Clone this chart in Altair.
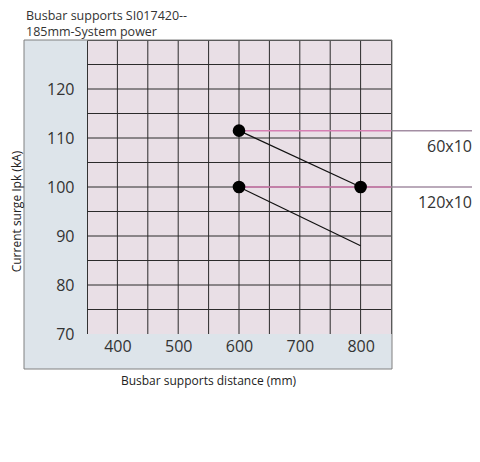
import altair as alt
import pandas as pd

# Data
series = ["60x10", "120x10"]
x_start = [600, 600]
y_start = [111.5, 100]
x_end = [800, 800]
y_end = [100, 88]
dot_x = [600, 800, 600]
dot_y = [111.5, 100, 100]

x_ticks = [400, 500, 600, 700, 800]
y_ticks = [70, 80, 90, 100, 110, 120]
x_grid = [400, 450, 500, 550, 600, 650, 700, 750, 800]
y_grid = [75, 80, 85, 90, 95, 100, 105, 110, 115, 120, 125]
title_lines = ["Busbar supports SI017420--", "185mm-System power"]

W, H = 304, 294
FONT = "Open Sans"

seg = pd.DataFrame({"series": series, "x": x_start, "y": y_start, "x2": x_end, "y2": y_end})
dots = pd.DataFrame({"x": dot_x, "y": dot_y})
one = pd.DataFrame({"a": [0]})
xg = pd.DataFrame({"gx": x_grid})
yg = pd.DataFrame({"gy": y_grid})
axis_df = pd.DataFrame({"x": [350, 850], "y": [70, 130]})

xs = alt.Scale(domain=[350, 850], nice=False, zero=False)
ys = alt.Scale(domain=[70, 130], nice=False, zero=False)

x_axis = alt.Axis(values=x_ticks, grid=False, ticks=False, domain=False, zindex=2,
                  labelFont=FONT, labelFontSize=16, labelColor="#333333", labelPadding=4,
                  title="Busbar supports distance (mm)", titleFont=FONT, titleFontSize=12,
                  titleFontWeight="normal", titleColor="#222222", titleX=121, titleY=46,
                  titleBaseline="middle", titleAlign="center")
y_axis = alt.Axis(values=y_ticks, grid=False, ticks=False, domain=False, zindex=2,
                  labelFont=FONT, labelFontSize=16, labelColor="#333333", labelPadding=13,
                  title="Current surge Ipk (kA)", titleFont=FONT, titleFontSize=12,
                  titleFontWeight="normal", titleColor="#222222", titleX=-71, titleY=171,
                  titleAngle=-90, titleBaseline="middle", titleAlign="center")

# Axes carrier
base = alt.Chart(axis_df).mark_point(opacity=0).encode(
    x=alt.X("x:Q", scale=xs, axis=x_axis),
    y=alt.Y("y:Q", scale=ys, axis=y_axis))

# Title text
title1 = alt.Chart(one).mark_text(align="left", baseline="middle", font=FONT, fontSize=12.5,
                                  color="#333333", clip=False, text=title_lines[0]).encode(
    x=alt.value(-61), y=alt.value(-24))
title2 = alt.Chart(one).mark_text(align="left", baseline="middle", font=FONT, fontSize=12.5,
                                  color="#333333", clip=False, text=title_lines[1]).encode(
    x=alt.value(-61), y=alt.value(-8))

# Blue panel (L-shape around plot area) and its outline
panel_left = alt.Chart(one).mark_rect(color="#dde4ea", clip=False).encode(
    x=alt.value(-63), x2=alt.value(0), y=alt.value(0), y2=alt.value(329))
panel_bottom = alt.Chart(one).mark_rect(color="#dde4ea", clip=False).encode(
    x=alt.value(0), x2=alt.value(305), y=alt.value(H), y2=alt.value(329))
panel_outline = alt.Chart(one).mark_rect(fillOpacity=0, stroke="#808080", strokeWidth=1, clip=False).encode(
    x=alt.value(-63), x2=alt.value(305), y=alt.value(0), y2=alt.value(329))

# Grid
vgrid = alt.Chart(xg).mark_rule(color="#2b2b2b", strokeWidth=1).encode(
    x=alt.X("gx:Q", scale=xs, axis=None))
hgrid = alt.Chart(yg).mark_rule(color="#2b2b2b", strokeWidth=1).encode(
    y=alt.Y("gy:Q", scale=ys, axis=None))

# Horizontal marker lines
rule_in = alt.Chart(seg).mark_rule(color="#d67fb3", strokeWidth=1.5).encode(
    x=alt.X("x:Q", scale=xs, axis=None), x2=alt.value(W),
    y=alt.Y("y:Q", scale=ys, axis=None))
rule_out = alt.Chart(seg).mark_rule(color="#a38ea3", strokeWidth=1.5, clip=False).encode(
    x=alt.value(W), x2=alt.value(390),
    y=alt.Y("y:Q", scale=ys, axis=None))

lines = alt.Chart(seg).mark_rule(color="#111111", strokeWidth=1.2).encode(
    x=alt.X("x:Q", scale=xs, axis=None), y=alt.Y("y:Q", scale=ys, axis=None),
    x2="x2:Q", y2="y2:Q")

points = alt.Chart(dots).mark_circle(color="#000000", opacity=1, size=160).encode(
    x=alt.X("x:Q", scale=xs, axis=None), y=alt.Y("y:Q", scale=ys, axis=None))

labels = alt.Chart(seg).mark_text(align="right", baseline="middle", font=FONT, fontSize=16,
                                  color="#333333", dy=16, clip=False).encode(
    x=alt.value(W + 81), y=alt.Y("y:Q", scale=ys, axis=None), text="series:N")

chart = alt.layer(panel_left, panel_bottom, vgrid, hgrid, rule_in, rule_out, lines,
                  points, labels, panel_outline, title1, title2, base).resolve_axis(
    x="independent", y="independent").properties(
    width=W, height=H,
    autosize=alt.AutoSizeParams(type="none"),
    padding={"left": 79, "top": 32, "right": 81, "bottom": 60},
).configure_view(fill="#e9dfe6", stroke="#333333", strokeWidth=1)

chart.save("out.html", embed_options={"renderer": "svg", "actions": False})
